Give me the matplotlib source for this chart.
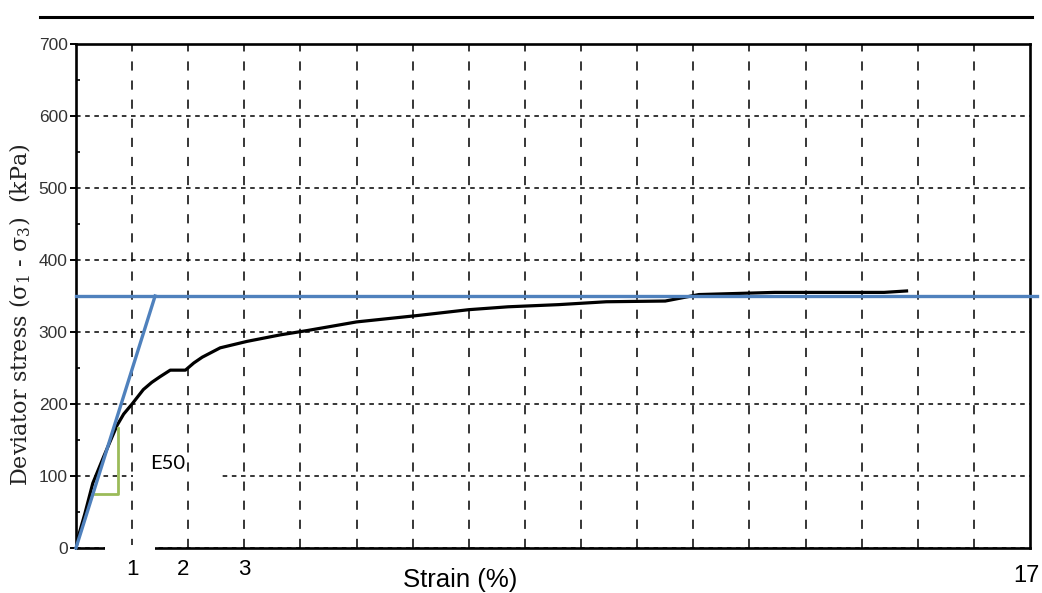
import numpy as np
import matplotlib
matplotlib.use('Agg')
import matplotlib.pyplot as plt
from matplotlib.patches import Rectangle
from matplotlib.lines import Line2D

# stress-strain curve
strain = [0, 0.05, 0.16, 0.3, 0.5, 0.62, 0.73, 0.85, 1.0, 1.05, 1.2, 1.35, 1.5, 1.68,
          1.95, 2.1, 2.25, 2.57, 3.05, 3.64, 4.12, 5.0, 6.1, 7.0, 7.7, 8.6, 9.45,
          10.5, 11.1, 12.45, 13.6, 14.4, 14.8]
stress = [0, 18, 48, 90, 128, 150, 170, 186, 200, 205, 220, 230, 238, 247,
          247, 257, 265, 278, 287, 296, 302, 314, 323, 331, 335, 338, 342,
          343, 352, 355, 355, 355, 357]

# construction lines
peak_stress = 350
tangent_strain = [0, 1.41]
tangent_stress = [0, 350]
e50_strain = [0.34, 0.75, 0.75]
e50_stress = [75, 75, 167]

xtick_labels = ['1', '2', '3', '17']
ytick_values = [0, 100, 200, 300, 400, 500, 600, 700]

plt.rcParams['mathtext.fontset'] = 'dejavuserif'

fig = plt.figure(figsize=(10.42, 5.93), dpi=100)
ax = fig.add_axes([0.0729, 0.0759, 0.9156, 0.8499])

ax.set_xlim(0, 17)
ax.set_ylim(0, 700)

# grid
ax.set_axisbelow(True)
ax.xaxis.remove_overlapping_locs = False
ax.set_xticks(np.arange(1, 17), minor=True)
ax.xaxis.grid(True, which='minor', color='black', linestyle=(0, (6, 6.5)), linewidth=1.1)
ax.yaxis.grid(True, which='major', color='black', linestyle=(0, (3, 3)), linewidth=1.1)

# white box behind the E50 label breaks the 100 gridline
ax.add_patch(Rectangle((1.02, 95), 1.55, 10, facecolor='white', edgecolor='none', zorder=1))

ax.plot(strain, stress, color='black', linewidth=2.3, zorder=3)
ax.plot([0, 17.13], [peak_stress, peak_stress], color='#4F81BD', linewidth=2.4,
        zorder=4, clip_on=False)
ax.plot(tangent_strain, tangent_stress, color='#4F81BD', linewidth=2.4, zorder=4,
        clip_on=False)
ax.plot(e50_strain, e50_stress, color='#9BBB59', linewidth=2.0, zorder=3)
ax.text(1.64, 118, 'E50', fontsize=14.5, family='Lato', ha='center', va='center')

for s in ax.spines.values():
    s.set_linewidth(1.9)

# gap in the bottom axis line
ax.add_patch(Rectangle((0.52, -0.006), 0.89, 0.012, transform=ax.get_xaxis_transform(),
                       facecolor='white', edgecolor='none', zorder=5, clip_on=False))

# y ticks
ax.set_yticks(ytick_values)
ax.set_yticks(np.arange(50, 700, 100), minor=True)
ax.set_yticklabels([str(v) for v in ytick_values], family='Liberation Sans',
                   fontsize=12.5, color='#333333')
ax.tick_params(axis='y', which='major', direction='out', length=4.5, width=1.4, pad=1.5)
ax.tick_params(axis='y', which='minor', direction='in', length=3, width=1.2)

# x tick labels
ax.set_xticks([1.0, 1.9, 3.0, 16.93])
ax.set_xticklabels(xtick_labels, family='Liberation Sans', fontsize=16)
ax.tick_params(axis='x', which='both', length=0, pad=8)
last = ax.get_xticklabels()[3]
last.set_y(-0.012)
last.set_fontsize(17)

ax.set_xlabel('Strain (%)', family='Liberation Sans', fontsize=18.5)
ax.xaxis.set_label_coords(0.4025, -0.064)
ax.xaxis.label.set_va('center')

ax.set_ylabel('Deviator stress (σ$_1$ - σ$_3$)  (kPa)', family='DejaVu Serif',
              fontsize=16, color='#222222')
ax.yaxis.set_label_coords(-0.0587, 0.462)
ax.yaxis.label.set_va('center')

# rule above the chart
fig.add_artist(Line2D([40 / 1042, 1032 / 1042], [0.9713, 0.9713], color='black',
                      linewidth=2.2))

fig.savefig('out.png', dpi=100)
